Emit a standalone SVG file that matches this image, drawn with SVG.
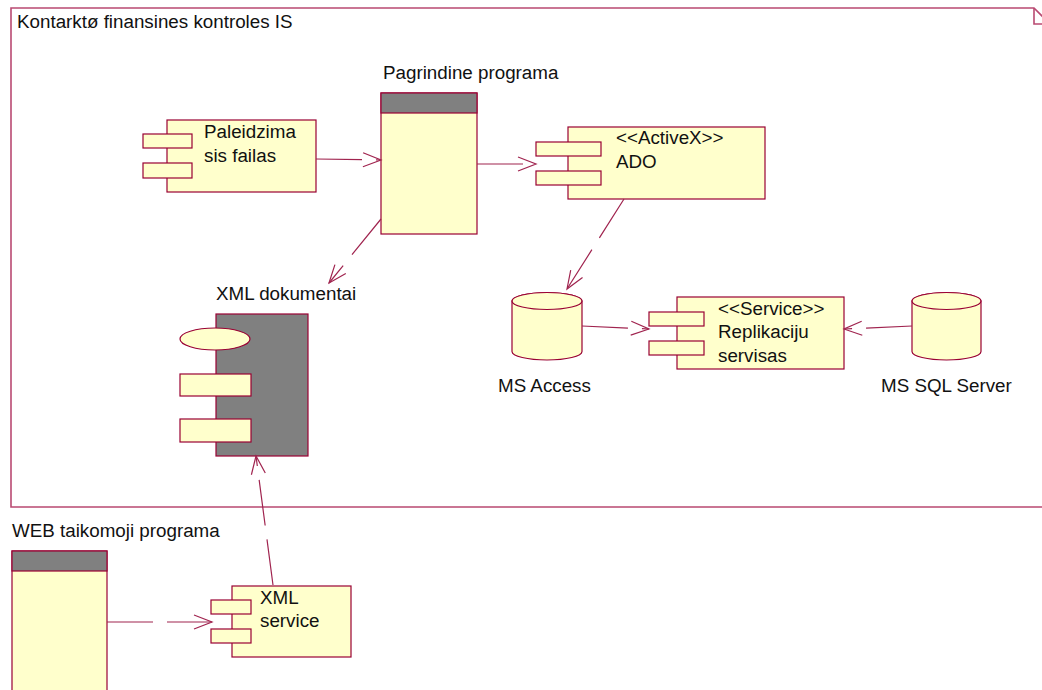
<svg xmlns="http://www.w3.org/2000/svg" width="1042" height="690" viewBox="0 0 1042 690">
  <style>
    .frame { fill: none; stroke: #b94a72; stroke-width: 1.6; }
    .box { fill: #ffffcc; stroke: #990033; stroke-width: 1.2; }
    .dark { fill: #808080; stroke: #990033; stroke-width: 1.2; }
    .dep { fill: none; stroke: #a0244f; stroke-width: 1.2; stroke-dasharray: 46 14; marker-end: url(#open); }
    text { font-family: "Liberation Sans", Arial, sans-serif; font-size: 18.8px; fill: #111; }
  </style>
  <defs>
    <marker id="open" markerUnits="userSpaceOnUse" markerWidth="24" markerHeight="20" viewBox="-20 -10 24 20" refX="0" refY="0" orient="auto">
      <path d="M-18,-7 L0,0 L-18,7" fill="none" stroke="#a0244f" stroke-width="1.2"/>
    </marker>
  </defs>

  <!-- package frame -->
  <g id="pkg-kontraktu">
    <path class="frame" d="M11,8 H1034 L1050,24 V507 H11 Z"/>
    <path class="frame" d="M1034,8 V24 H1050"/>
    <text x="17" y="28">Kontarktø finansines kontroles IS</text>
  </g>

  <!-- launch file component -->
  <g id="paleidzimas">
    <rect class="box" x="167" y="120" width="149" height="72"/>
    <rect class="box" x="143" y="134" width="49" height="14"/>
    <rect class="box" x="143" y="163" width="49" height="15"/>
    <text x="204" y="138">Paleidzima</text>
    <text x="204" y="162">sis failas</text>
  </g>

  <!-- main program -->
  <g id="pagrindine">
    <rect class="box" x="381" y="93" width="96" height="141"/>
    <rect class="dark" x="381" y="93" width="96" height="20"/>
    <text x="383" y="79">Pagrindine programa</text>
  </g>

  <!-- ADO -->
  <g id="ado">
    <rect class="box" x="568" y="127" width="197" height="72"/>
    <rect class="box" x="536" y="142" width="65" height="14"/>
    <rect class="box" x="536" y="171" width="65" height="14"/>
    <text x="616" y="144">&lt;&lt;ActiveX&gt;&gt;</text>
    <text x="616" y="168">ADO</text>
  </g>

  <!-- XML documents -->
  <g id="xml-dokumentai">
    <rect class="dark" x="216" y="314" width="92" height="142"/>
    <ellipse class="box" cx="215" cy="339" rx="35" ry="11"/>
    <rect class="box" x="180" y="374" width="71" height="22"/>
    <rect class="box" x="180" y="419" width="71" height="23"/>
    <text x="216" y="300">XML dokumentai</text>
  </g>

  <!-- MS Access -->
  <g id="ms-access">
    <path class="box" d="M512,301 V351.5 A35,8.5 0 0 0 582,351.5 V301 A35,8.5 0 0 0 512,301 Z"/>
    <ellipse class="box" cx="547" cy="301" rx="35" ry="8.5"/>
    <text x="498" y="392">MS Access</text>
  </g>

  <!-- replication service -->
  <g id="replikaciju">
    <rect class="box" x="677" y="297" width="167" height="72"/>
    <rect class="box" x="649" y="312" width="55" height="14"/>
    <rect class="box" x="649" y="341" width="55" height="14"/>
    <text x="718" y="315">&lt;&lt;Service&gt;&gt;</text>
    <text x="718" y="338">Replikaciju</text>
    <text x="718" y="362">servisas</text>
  </g>

  <!-- MS SQL Server -->
  <g id="ms-sql">
    <path class="box" d="M912,301 V351.5 A34.5,8.5 0 0 0 981,351.5 V301 A34.5,8.5 0 0 0 912,301 Z"/>
    <ellipse class="box" cx="946.5" cy="301" rx="34.5" ry="8.5"/>
    <text x="881" y="392">MS SQL Server</text>
  </g>

  <!-- web application -->
  <g id="web-programa">
    <rect class="box" x="12" y="551" width="95" height="150"/>
    <rect class="dark" x="12" y="551" width="95" height="20"/>
    <text x="12" y="537">WEB taikomoji programa</text>
  </g>

  <!-- XML service -->
  <g id="xml-service">
    <rect class="box" x="232" y="586" width="119" height="71"/>
    <rect class="box" x="211" y="600" width="40" height="14"/>
    <rect class="box" x="211" y="629" width="40" height="14"/>
    <text x="260" y="604">XML</text>
    <text x="260" y="627">service</text>
  </g>

  <!-- dependencies -->
  <g id="connectors">
    <path class="dep" d="M316,159 L381,160"/>
    <path class="dep" d="M477,164 L536,164"/>
    <path class="dep" d="M381,219 L329,283"/>
    <path class="dep" d="M624,199 L567,289"/>
    <path class="dep" d="M582,326 L649,329"/>
    <path class="dep" d="M912,326 L844,329"/>
    <path class="dep" d="M273,585 L256,456"/>
    <path class="dep" d="M107,622 L212,622"/>
  </g>
</svg>
